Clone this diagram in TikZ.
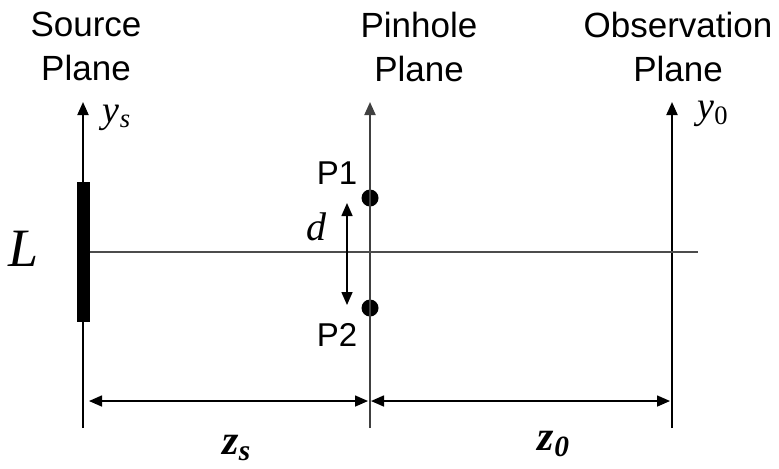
\documentclass[tikz,border=0pt]{standalone}
\usepackage{fontspec}
\setmainfont{Liberation Sans}
\newfontfamily\tms{Liberation Serif}
\usetikzlibrary{positioning,calc,arrows.meta}
\tikzstyle{arrow} = [-{Triangle[length=6.5pt,width=5.5pt]}, line width=1pt]
\tikzstyle{dimline} = [{Triangle[length=6.5pt,width=5.5pt]}-{Triangle[length=6.5pt,width=5.5pt]}, line width=0.8pt]
\tikzstyle{planelabel} = [align=center, inner sep=0pt, anchor=north, font=\fontsize{17.5}{22}\selectfont]
\tikzstyle{pinlabel} = [inner sep=0pt, font=\fontsize{16.5}{18}\selectfont]
\tikzstyle{hole} = [circle, fill=black, inner sep=0pt, minimum size=8.5pt]
\tikzstyle{symbol} = [inner sep=0pt, font=\tms\itshape]

\begin{document}
\begin{tikzpicture}[x=0.5pt, y=-0.5pt]
    \useasboundingbox (0,0) rectangle (779,468);
    \coordinate (srcbot) at (83,428);
    \coordinate (srctop) at (83,102);
    \coordinate (pinbot) at (370,428);
    \coordinate (pintop) at (370,102);
    \coordinate (obsbot) at (672,428);
    \coordinate (obstop) at (672,102);
    \coordinate (axisend) at (698,252);
    \coordinate (dtop) at (347,203);
    \coordinate (dbot) at (347,305);
    \coordinate (zsleft) at (89,401);
    \coordinate (zsright) at (368,401);
    \coordinate (zoleft) at (371,401);
    \coordinate (zoright) at (670,401);
    \node[planelabel] (srclbl) at (86,12) {Source\\Plane};
    \node[planelabel] (pinlbl) at (419,12) {Pinhole\\Plane};
    \node[planelabel] (obslbl) at (678,12) {Observation\\Plane};
    \node[fill=black, minimum width=6.5pt, minimum height=70pt, inner sep=0pt] (lamp) at (83,252) {};
    \node[hole] (p1) at (370,198) {};
    \node[hole] (p2) at (370,308) {};
    \node[pinlabel] (p1lbl) at (337,173) {P1};
    \node[pinlabel] (p2lbl) at (337,335) {P2};
    \node[symbol, font=\fontsize{27}{30}\selectfont\tms\itshape] (llbl) at (24,249) {L};
    \node[symbol, font=\fontsize{20}{22}\selectfont\tms\itshape] (dlbl) at (316,227) {d};
    \node[symbol, font=\fontsize{19}{22}\selectfont\tms\itshape] (yslbl) at (117,118) {y\textsubscript{s}};
    \node[symbol, font=\fontsize{19}{22}\selectfont\tms\itshape] (yolbl) at (713,114) {y\textsubscript{\upshape 0}};
    \node[symbol, font=\fontsize{21}{24}\selectfont\tms\bfseries\itshape] (zslbl) at (237,448) {z\textsubscript{s}};
    \node[symbol, font=\fontsize{21}{24}\selectfont\tms\bfseries\itshape] (zolbl) at (554,444) {z\textsubscript{0}};
    \draw[arrow] (srcbot) -- (srctop);
    \draw[arrow, black!75] (pinbot) -- (pintop);
    \draw[arrow] (obsbot) -- (obstop);
    \draw[line width=0.8pt, black!70] (lamp.east) -- (axisend);
    \draw[dimline] (dtop) -- (dbot);
    \draw[dimline] (zsleft) -- (zsright);
    \draw[dimline] (zoleft) -- (zoright);
\end{tikzpicture}
\end{document}
